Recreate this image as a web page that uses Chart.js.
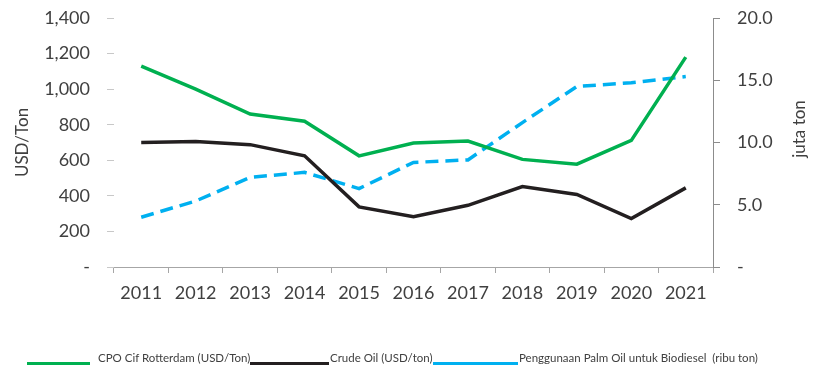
<!DOCTYPE html>
<html><head><meta charset="utf-8">
<script src="https://cdn.jsdelivr.net/npm/chart.js@4"></script>
<style>
html,body{margin:0;padding:0;background:#fff;}
#wrap{position:relative;width:814px;height:374px;overflow:hidden;}
canvas{position:absolute;left:0;top:0;}
.lg{position:absolute;font-family:Lato,sans-serif;font-size:11.5px;color:#404040;white-space:pre;line-height:14px;}
.ln{position:absolute;height:3px;}
</style></head><body>
<div id="wrap"><canvas id="c" width="814" height="374"></canvas><div id="legend"></div></div>
<script>
const years = ['2011','2012','2013','2014','2015','2016','2017','2018','2019','2020','2021'];
const cpoPrice = [1130, 1000, 860, 820, 625, 697, 708, 605, 578, 712, 1180];
const crudeOilPrice = [700, 705, 688, 625, 338, 283, 347, 452, 408, 272, 445];
const biodieselUse = [4.0, 5.3, 7.2, 7.6, 6.3, 8.4, 8.6, 11.6, 14.5, 14.8, 15.3];
const leftTitle = 'USD/Ton';
const rightTitle = 'juta ton';
const seriesLabels = ['CPO Cif Rotterdam (USD/Ton)', 'Crude Oil (USD/ton)', 'Penggunaan Palm Oil untuk Biodiesel  (ribu ton)'];
const seriesColors = ['#00B050', '#231F20', '#00B0F0'];

const FONT = 'Lato, sans-serif';
const TXT = '#404040';
const TICK_SIZE = 18;

const rightTitlePlugin = {
  id: 'rightTitle',
  afterDraw(chart) {
    const ctx = chart.ctx;
    ctx.save();
    ctx.font = '17px ' + FONT;
    ctx.fillStyle = TXT;
    ctx.textAlign = 'center';
    ctx.textBaseline = 'middle';
    ctx.translate(800, 129);
    ctx.rotate(-Math.PI / 2);
    ctx.fillText(rightTitle, 0, 0);
    ctx.restore();
  }
};

new Chart(document.getElementById('c'), {
  type: 'line',
  data: {
    labels: years,
    datasets: [
      { label: seriesLabels[0], data: cpoPrice, yAxisID: 'y', borderColor: seriesColors[0], borderWidth: 3.5, pointRadius: 0, tension: 0, fill: false },
      { label: seriesLabels[1], data: crudeOilPrice, yAxisID: 'y', borderColor: seriesColors[1], borderWidth: 3.5, pointRadius: 0, tension: 0, fill: false },
      { label: seriesLabels[2], data: biodieselUse, yAxisID: 'y2', borderColor: seriesColors[2], borderWidth: 3.5, borderDash: [13, 7], pointRadius: 0, tension: 0, fill: false }
    ]
  },
  options: {
    responsive: false,
    animation: false,
    devicePixelRatio: 1,
    layout: { padding: { top: 18, bottom: 67, left: 0, right: 0 } },
    plugins: { legend: { display: false }, tooltip: { enabled: false } },
    scales: {
      x: {
        offset: true,
        grid: { display: true, drawOnChartArea: false, drawTicks: true, tickLength: 6, color: '#A6A6A6', offset: true },
        border: { display: true, color: '#A6A6A6', width: 1 },
        ticks: { font: { family: FONT, size: TICK_SIZE }, color: TXT, padding: 9, maxRotation: 0, autoSkip: false },
        afterFit(s) { s.height = 40; }
      },
      y: {
        position: 'left',
        min: 0, max: 1400,
        ticks: { stepSize: 200, font: { family: FONT, size: TICK_SIZE }, color: TXT, padding: 17,
          callback: v => v === 0 ? '-' : v.toLocaleString('en-US') },
        grid: { display: true, drawOnChartArea: false, drawTicks: true, tickLength: 7, color: '#C8C8C8' },
        border: { display: false },
        title: { display: true, text: leftTitle, font: { family: FONT, size: 17 }, color: TXT, padding: { top: 12, bottom: 0 } },
        afterFit(s) { s.width = 114; s.paddingTop = 0; s.paddingBottom = 0; }
      },
      y2: {
        position: 'right',
        min: 0, max: 20,
        ticks: { stepSize: 5, font: { family: FONT, size: TICK_SIZE }, color: TXT, padding: 17,
          callback: v => v === 0 ? '-' : v.toFixed(1) },
        grid: { display: true, drawOnChartArea: false, drawTicks: true, tickLength: 7, color: '#8C8C8C' },
        border: { display: true, color: '#8C8C8C', width: 1 },
        afterFit(s) { s.width = 101; s.paddingTop = 0; s.paddingBottom = 0; }
      }
    }
  },
  plugins: [rightTitlePlugin]
});

// HTML legend built from the series labels/colours
const legendPos = [
  { lineX: 27, lineW: 63, textX: 98 },
  { lineX: 250, lineW: 79, textX: 330 },
  { lineX: 433, lineW: 85, textX: 519 }
];
const lg = document.getElementById('legend');
seriesLabels.forEach((lab, i) => {
  const p = legendPos[i];
  const ln = document.createElement('div');
  ln.className = 'ln';
  ln.style.left = p.lineX + 'px'; ln.style.top = '362px'; ln.style.width = p.lineW + 'px';
  ln.style.background = seriesColors[i];
  lg.appendChild(ln);
  const t = document.createElement('div');
  t.className = 'lg';
  t.style.left = p.textX + 'px'; t.style.top = '351px';
  t.textContent = lab;
  lg.appendChild(t);
});
</script>
</body></html>
